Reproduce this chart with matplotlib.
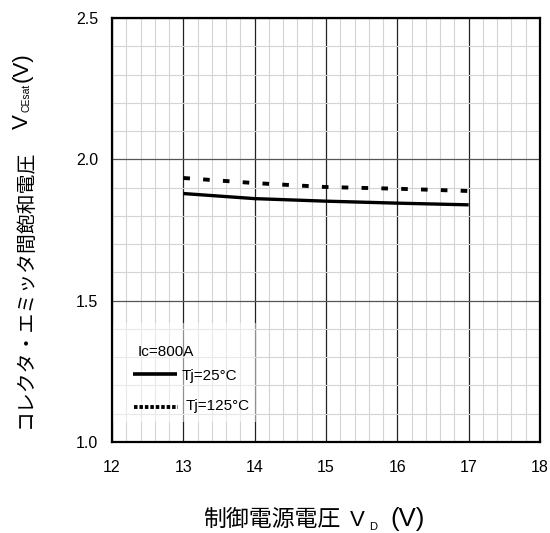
import matplotlib
matplotlib.use("Agg")
import matplotlib.pyplot as plt
from matplotlib.ticker import MultipleLocator

plt.rcParams['font.family'] = ['Liberation Sans', 'Noto Sans CJK JP', 'DejaVu Sans']

# data
vd = [13, 14, 15, 16, 17]
vce_25 = [1.879, 1.861, 1.852, 1.845, 1.839]
vce_125 = [1.934, 1.916, 1.902, 1.896, 1.888]

x_ticks = [12, 13, 14, 15, 16, 17, 18]
y_ticks = [1.0, 1.5, 2.0, 2.5]

W, H = 550, 533
fig = plt.figure(figsize=(5.5, 5.33), dpi=100)
ax = fig.add_axes([112 / W, 1 - 442 / H, 428 / W, 424 / H])

ax.set_xlim(12, 18)
ax.set_ylim(1.0, 2.5)
ax.set_xticks(x_ticks)
ax.set_yticks(y_ticks)
ax.set_yticklabels([f"{v:.1f}" for v in y_ticks])
ax.xaxis.set_minor_locator(MultipleLocator(0.2))
ax.yaxis.set_minor_locator(MultipleLocator(0.1))
ax.grid(which='minor', color='#d4d4d4', linewidth=0.8)
ax.grid(which='major', axis='x', color='#222222', linewidth=0.9)
ax.grid(which='major', axis='y', color='#555555', linewidth=0.9)
ax.set_axisbelow(True)
ax.tick_params(which='both', length=0, labelsize=11.5)
ax.tick_params(axis='x', pad=13)
ax.tick_params(axis='y', pad=10)
for s in ax.spines.values():
    s.set_linewidth(1.6)

ax.plot(vd, vce_25, color='black', linewidth=2.4, solid_capstyle='butt')
ax.plot(vd, vce_125, color='black', linewidth=2.8, linestyle=(0, (1.7, 3.4)))

# legend block (hand drawn like the original)
ax.add_patch(plt.Rectangle((12.02, 1.07), 2.0, 0.35, facecolor='white', alpha=0.5,
                           edgecolor='none', zorder=2))
ax.text(12.365, 1.318, "Ic=800A", fontsize=11, va='center', zorder=3)
ax.plot([12.294, 12.911], [1.241, 1.241], color='black', linewidth=2.6,
        solid_capstyle='butt', zorder=3)
ax.text(12.98, 1.232, "Tj=25°C", fontsize=11, va='center', zorder=3)
ax.plot([12.308, 12.925], [1.124, 1.124], color='black', linewidth=2.8,
        linestyle=(0, (0.9, 0.5)), zorder=3)
ax.text(13.03, 1.129, "Tj=125°C", fontsize=11, va='center', zorder=3)

# x label pieces (sits right at the bottom edge, as in the original)
fig.text(203 / W, 1 - 526 / H, "制御電源電圧", fontsize=16.5, ha='left', va='baseline')
fig.text(350 / W, 1 - 526 / H, "V", fontsize=16, ha='left', va='baseline')
fig.text(369 / W, 1 - 530 / H, "D", fontsize=8, ha='left', va='baseline')
fig.text(407.5 / W, 1 - 526 / H, "(V)", fontsize=18.5, ha='center', va='baseline')

# y label pieces, rotated; baseline lies on the right-hand side
rot = dict(rotation=90, rotation_mode='anchor', ha='left', va='baseline')
fig.text(30.5 / W, 1 - 428 / H, "コレクタ・エミッタ間飽和電圧", fontsize=14.3, **rot)
fig.text(28 / W, 1 - 129 / H, "V", fontsize=16, **rot)
fig.text(30 / W, 1 - 112 / H, "CEsat", fontsize=7.5, **rot)
fig.text(28 / W, 1 - 82 / H, "(V)", fontsize=16, **rot)

fig.savefig("out.png", dpi=100)
